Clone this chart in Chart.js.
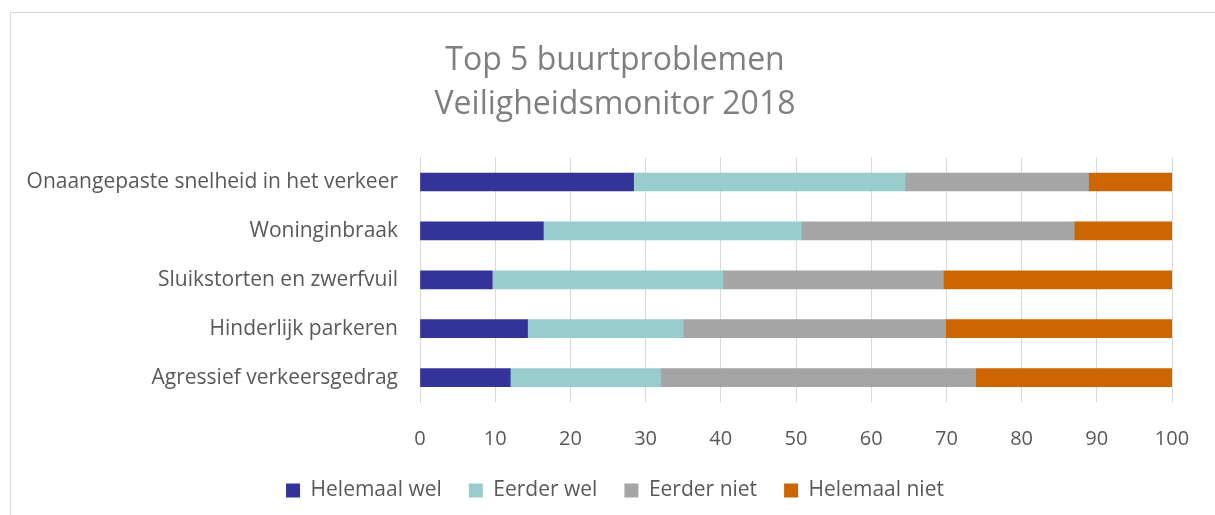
<!DOCTYPE html>
<html>
<head>
<meta charset="utf-8">
<script src="https://cdn.jsdelivr.net/npm/chart.js@4.4.1/dist/chart.umd.min.js"></script>
<style>
  html, body { margin: 0; padding: 0; background: #fff; overflow: hidden; }
  #frame { position: absolute; left: 10px; top: 12px; width: 1220px; height: 520px; border: 1px solid #d9d9d9; box-sizing: border-box; }
  #wrap { position: absolute; left: 0; top: 0; width: 1215px; height: 515px; }
</style>
</head>
<body>
<div id="frame"></div>
<div id="wrap"><canvas id="c" width="1215" height="515"></canvas></div>
<script>
const categories = [
  "Onaangepaste snelheid in het verkeer",
  "Woninginbraak",
  "Sluikstorten en zwerfvuil",
  "Hinderlijk parkeren",
  "Agressief verkeersgedrag"
];
const helemaalWel  = [28.4, 16.4,  9.6, 14.3, 12.0];
const eerderWel    = [36.1, 34.3, 30.7, 20.7, 20.0];
const eerderNiet   = [24.4, 36.3, 29.3, 34.9, 41.9];
const helemaalNiet = [11.1, 13.0, 30.4, 30.1, 26.1];
const seriesNames = ["Helemaal wel", "Eerder wel", "Eerder niet", "Helemaal niet"];
const titleLines = ["Top 5 buurtproblemen", "Veiligheidsmonitor 2018"];

const FONT = "'Open Sans', Lato, sans-serif";
const colors = ["#333399", "#99CCCC", "#A5A5A5", "#CC6600"];
const values = [helemaalWel, eerderWel, eerderNiet, helemaalNiet];

new Chart(document.getElementById('c'), {
  type: 'bar',
  data: {
    labels: categories,
    datasets: seriesNames.map((n, i) => ({
      label: n,
      data: values[i],
      backgroundColor: colors[i],
      borderWidth: 0,
      barThickness: 18
    }))
  },
  options: {
    indexAxis: 'y',
    responsive: false,
    animation: false,
    layout: { padding: { left: 15, right: 0, top: 0, bottom: 4 } },
    plugins: {
      tooltip: { enabled: false },
      title: {
        display: true,
        text: titleLines,
        color: '#7f7f7f',
        font: { family: FONT, size: 32, weight: 'normal', lineHeight: 1.4 },
        padding: { top: 38, bottom: 30 }
      },
      legend: {
        position: 'bottom',
        maxHeight: 67,
        labels: {
          color: '#595959',
          font: { family: FONT, size: 21 },
          boxWidth: 14,
          boxHeight: 14,
          padding: 27
        }
      }
    },
    scales: {
      x: {
        stacked: true,
        min: 0, max: 100,
        ticks: { stepSize: 10, color: '#595959', font: { family: FONT, size: 20 }, padding: 25 },
        grid: { color: '#d9d9d9', drawTicks: false },
        border: { display: false },
        afterFit: s => { s.height = 51; }
      },
      y: {
        stacked: true,
        ticks: { color: '#595959', font: { family: FONT, size: 21 }, padding: 22 },
        grid: { display: false, drawTicks: false },
        border: { color: '#d9d9d9' },
        afterFit: s => { s.width = 405; }
      },
      yr: {
        position: 'right',
        display: true,
        ticks: { display: false },
        grid: { display: false, drawTicks: false },
        border: { display: false },
        afterFit: s => { s.width = 43; }
      }
    }
  }
});
</script>
</body>
</html>
